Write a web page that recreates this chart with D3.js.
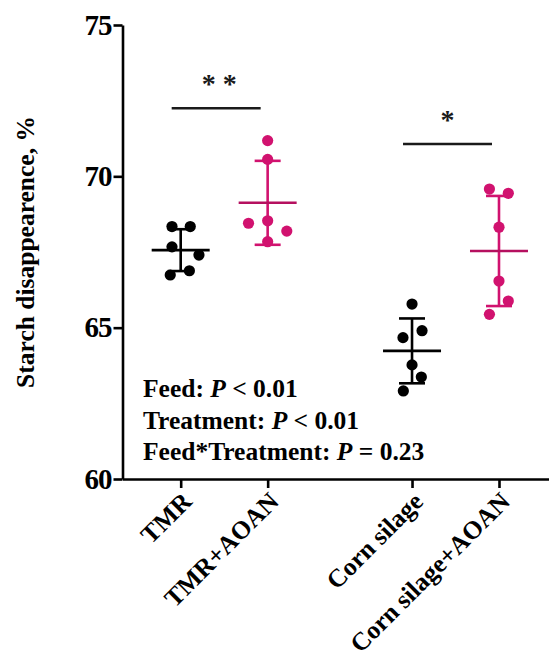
<!DOCTYPE html>
<html>
<head>
<meta charset="utf-8">
<script src="https://cdn.jsdelivr.net/npm/d3@7"></script>
<style>
  body { margin: 0; background: #fff; }
  svg { display: block; font-family: 'Liberation Serif', 'Times New Roman', serif; }
</style>
</head>
<body>
<svg id="chart" width="549" height="657"></svg>
<script>
// groups on the x axis (position in group units)
const groups = ['TMR', 'TMR+AOAN', 'Corn silage', 'Corn silage+AOAN'];
const groupPos = [1, 2, 3.66, 4.66];
const groupColour = ['#000000', '#d1126f', '#000000', '#d1126f'];
const meanColour = ['#000000', '#b5105f', '#000000', '#b5105f'];

// starch disappearence of each replicate, %
const tmrValues = [68.34, 68.34, 67.67, 67.40, 66.74, 66.88];
const tmrAoanValues = [71.18, 70.56, 68.45, 68.53, 68.19, 67.84];
const cornValues = [65.78, 64.90, 64.67, 63.77, 63.37, 62.91];
const cornAoanValues = [69.58, 69.44, 68.32, 66.54, 65.88, 65.44];

// horizontal scatter of the replicates, in group units
const tmrJitter = [-0.10, 0.11, -0.10, 0.21, -0.12, 0.10];
const tmrAoanJitter = [0, 0, -0.22, 0, 0.22, 0];
const cornJitter = [0, 0.115, -0.104, 0, 0.107, -0.10];
const cornAoanJitter = [-0.11, 0.107, 0, 0, 0.107, -0.11];

const yTicks = [60, 65, 70, 75];

// pairwise comparisons
const sigFrom = [0, 2];
const sigTo = [1, 3];
const sigLevel = [72.25, 71.07];
const sigLabel = ['* *', '*'];

// two-way ANOVA results
const statNames = ['Feed: ', 'Treatment: ', 'Feed*Treatment: '];
const statTests = ['< 0.01', '< 0.01', '= 0.23'];

const allValues = [tmrValues, tmrAoanValues, cornValues, cornAoanValues];
const allJitter = [tmrJitter, tmrAoanJitter, cornJitter, cornAoanJitter];

const svg = d3.select('#chart');
const axisLeftX = 122.5;
const axisBottomY = 479;

const x = d3.scaleLinear().domain([0.331, 5.235]).range([axisLeftX, 549]);
const y = d3.scaleLinear().domain([60, 75]).range([axisBottomY, 25]);

const groupData = groups.map((g, i) => ({
  name: g,
  pos: groupPos[i],
  colour: groupColour[i],
  meanColour: meanColour[i],
  mean: d3.mean(allValues[i]),
  sd: d3.deviation(allValues[i]),
  points: allValues[i].map((v, j) => ({value: v, jitter: allJitter[i][j], colour: groupColour[i]}))
}));

// y axis
const yAxis = svg.append('g')
  .attr('transform', `translate(${axisLeftX},0)`)
  .call(d3.axisLeft(y).tickValues(yTicks).tickSize(9).tickSizeOuter(0).tickPadding(2));
yAxis.select('.domain').attr('stroke', '#000').attr('stroke-width', 2.6);
yAxis.selectAll('.tick line').attr('stroke', '#000').attr('stroke-width', 2.6);
yAxis.selectAll('.tick text')
  .attr('fill', '#000')
  .style('font-family', "'Liberation Serif', serif")
  .style('font-weight', 'bold')
  .style('font-size', '29px')
  .style('letter-spacing', '-1px');

// x axis
const xAxis = svg.append('g')
  .attr('transform', `translate(0,${axisBottomY})`)
  .call(d3.axisBottom(x).tickValues(groupPos).tickFormat((d, i) => groups[i]).tickSize(9).tickSizeOuter(0));
xAxis.select('.domain').attr('stroke', '#000').attr('stroke-width', 2.6);
xAxis.selectAll('.tick line').attr('stroke', '#000').attr('stroke-width', 2.6);
xAxis.selectAll('.tick text')
  .attr('fill', '#000')
  .attr('x', 0)
  .attr('y', 0)
  .attr('dy', 0)
  .attr('text-anchor', 'end')
  .attr('transform', 'translate(12,24) rotate(-45)')
  .style('font-family', "'Liberation Serif', serif")
  .style('font-weight', 'bold')
  .style('font-size', '25.5px');

// y axis title
svg.append('text')
  .attr('transform', `translate(34,${(y(60) + y(75)) / 2}) rotate(-90)`)
  .attr('text-anchor', 'middle')
  .style('font-weight', 'bold')
  .style('font-size', '25.5px')
  .text('Starch disappearence, %');

// mean +/- SD
const bars = svg.selectAll('g.group')
  .data(groupData)
  .join('g')
  .attr('class', 'group');

bars.append('line')
  .attr('x1', d => x(d.pos)).attr('x2', d => x(d.pos))
  .attr('y1', d => y(d.mean + d.sd)).attr('y2', d => y(d.mean - d.sd))
  .attr('stroke', d => d.colour).attr('stroke-width', 2.6);

bars.selectAll('line.cap')
  .data(d => [d.mean + d.sd, d.mean - d.sd].map(v => ({v, d})))
  .join('line')
  .attr('class', 'cap')
  .attr('x1', e => x(e.d.pos) - 13).attr('x2', e => x(e.d.pos) + 13)
  .attr('y1', e => y(e.v)).attr('y2', e => y(e.v))
  .attr('stroke', e => e.d.colour).attr('stroke-width', 2.6);

bars.append('line')
  .attr('x1', d => x(d.pos) - 29).attr('x2', d => x(d.pos) + 29)
  .attr('y1', d => y(d.mean)).attr('y2', d => y(d.mean))
  .attr('stroke', d => d.meanColour).attr('stroke-width', 2.6);

// replicates
bars.selectAll('circle')
  .data(d => d.points.map(p => ({...p, pos: d.pos})))
  .join('circle')
  .attr('cx', p => x(p.pos + p.jitter))
  .attr('cy', p => y(p.value))
  .attr('r', 5.6)
  .attr('fill', p => p.colour);

// significance brackets
sigFrom.forEach((f, i) => {
  const x1 = x(groupPos[f]) - 9;
  const x2 = x(groupPos[sigTo[i]]) - 7;
  svg.append('line')
    .attr('x1', x1).attr('x2', x2)
    .attr('y1', y(sigLevel[i])).attr('y2', y(sigLevel[i]))
    .attr('stroke', '#1a1a1a').attr('stroke-width', 2.6);
  svg.append('text')
    .attr('x', (x1 + x2) / 2 + (i === 0 ? 3 : 0))
    .attr('y', y(sigLevel[i]) - 15)
    .attr('text-anchor', 'middle')
    .style('font-size', '28px')
    .style('font-weight', 'bold')
    .attr('fill', '#1a1a1a')
    .text(sigLabel[i]);
});

// ANOVA summary
const stats = svg.append('text')
  .attr('x', 143)
  .attr('y', 397)
  .style('font-weight', 'bold')
  .style('font-size', '25.5px');
statNames.forEach((s, i) => {
  stats.append('tspan').attr('x', 143).attr('dy', i === 0 ? 0 : 31.5).text(s);
  stats.append('tspan').style('font-style', 'italic').text('P');
  stats.append('tspan').text(' ' + statTests[i]);
});
</script>
</body>
</html>
